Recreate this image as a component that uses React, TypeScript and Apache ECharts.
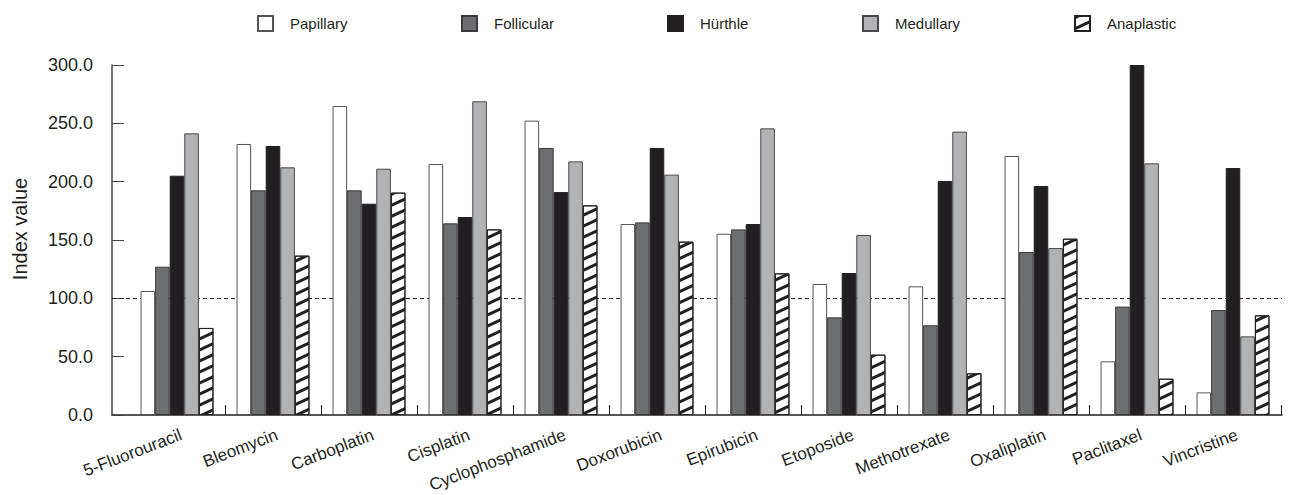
import React, { useEffect, useRef } from "react";
import * as echarts from "echarts";

const categories = [
  "5-Fluorouracil", "Bleomycin", "Carboplatin", "Cisplatin", "Cyclophosphamide", "Doxorubicin",
  "Epirubicin", "Etoposide", "Methotrexate", "Oxaliplatin", "Paclitaxel", "Vincristine",
];
const seriesNames = ["Papillary", "Follicular", "Hürthle", "Medullary", "Anaplastic"];
const papillary = [106.3, 232.3, 264.9, 215.1, 252.3, 163.7, 155.4, 112.3, 110.3, 222.0, 46.0, 19.4];
const follicular = [127.1, 192.6, 192.6, 164.3, 228.9, 165.1, 159.1, 83.7, 76.9, 139.7, 92.9, 90.0];
const hurthle = [205.1, 230.6, 181.1, 169.7, 191.1, 228.9, 163.7, 121.7, 200.6, 196.3, 300.0, 211.7];
const medullary = [241.4, 212.3, 211.1, 268.9, 217.4, 206.0, 245.7, 154.3, 242.9, 143.1, 215.7, 67.4];
const anaplastic = [74.6, 136.6, 190.6, 159.1, 179.7, 148.6, 121.4, 51.7, 35.7, 151.1, 31.1, 85.4];
const referenceValue = 100;
const yMin = 0;
const yMax = 300;
const yInterval = 50;

const FONT = "'Liberation Sans', Arial, Helvetica, sans-serif";
const INK = "#231f20";

export default function App() {
  const ref = useRef<HTMLDivElement>(null);

  useEffect(() => {
    if (!ref.current) return;
    const chart = echarts.init(ref.current, null, { renderer: "svg" });

    const values = [papillary, follicular, hurthle, medullary, anaplastic];
    const styles: any[] = [
      { color: "#ffffff", borderColor: "#555555", borderWidth: 1 },
      { color: "#6d6e72", borderColor: "#3a3a3c", borderWidth: 1 },
      { color: INK, borderColor: INK, borderWidth: 1 },
      { color: "#b2b3b6", borderColor: "#48484a", borderWidth: 1 },
      {
        color: "#ffffff",
        borderColor: INK,
        borderWidth: 1,
        decal: {
          symbol: "rect",
          symbolSize: 1,
          dashArrayX: [1, 0],
          dashArrayY: [3, 7],
          rotation: -Math.PI * 25 / 180,
          color: INK,
        },
      },
    ];
    const legendLefts = [257, 461, 667, 862, 1074];

    const barSeries = seriesNames.map((name, i) => ({
      name,
      type: "bar",
      xAxisIndex: 1,
      yAxisIndex: 1,
      data: values[i],
      barGap: "0%",
      barCategoryGap: "24%",
      z: 2,
      itemStyle: styles[i],
    }));

    const option: any = {
      animation: false,
      backgroundColor: "#ffffff",
      legend: seriesNames.map((name, i) => ({
        data: [name],
        left: legendLefts[i],
        top: 15,
        padding: 0,
        icon: "rect",
        itemWidth: 15,
        itemHeight: 15,
        selectedMode: false,
        textStyle: { fontFamily: FONT, fontSize: 15, color: INK, padding: [0, 0, 0, 12] },
      })),
      grid: [
        { left: 112, right: 7, top: 65, bottom: 80 },
        { left: 129, right: 8, top: 65, bottom: 80 },
        { left: 133, width: 1152, top: 65, bottom: 80 },
      ],
      xAxis: [
        {
          type: "value",
          gridIndex: 0,
          min: 0,
          max: 1,
          axisLine: { show: true, lineStyle: { color: INK, width: 1.5 } },
          axisTick: { show: false },
          axisLabel: { show: false },
          splitLine: { show: false },
        },
        {
          type: "category",
          gridIndex: 1,
          data: categories,
          boundaryGap: true,
          axisLine: { show: false },
          axisTick: {
            show: true,
            inside: true,
            length: 10,
            lineStyle: { color: INK, width: 1 },
            interval: (index: number) => index !== 0,
          },
          axisLabel: { show: false },
        },
        {
          type: "category",
          gridIndex: 2,
          data: categories,
          boundaryGap: true,
          axisLine: { show: false },
          axisTick: { show: false },
          axisLabel: {
            rotate: 21,
            margin: 25,
            fontFamily: FONT,
            fontSize: 17,
            color: INK,
            interval: 0,
          },
        },
      ],
      yAxis: [
        {
          type: "value",
          gridIndex: 0,
          min: yMin,
          max: yMax,
          interval: yInterval,
          name: "Index value",
          nameLocation: "middle",
          nameGap: 82,
          nameTextStyle: { fontFamily: FONT, fontSize: 20, color: INK, padding: [0, 0, 0, 22] },
          axisLine: { show: true, lineStyle: { color: "#444444", width: 1.5 } },
          axisTick: { show: true, inside: true, length: 12, lineStyle: { color: "#444444", width: 1 } },
          axisLabel: {
            margin: 19,
            fontFamily: FONT,
            fontSize: 18,
            color: INK,
            formatter: (v: number) => v.toFixed(1),
          },
          splitLine: { show: false },
        },
        {
          type: "value",
          gridIndex: 1,
          min: yMin,
          max: yMax,
          interval: yInterval,
          show: false,
          splitLine: { show: false },
        },
        {
          type: "value",
          gridIndex: 2,
          min: yMin,
          max: yMax,
          interval: yInterval,
          show: false,
          splitLine: { show: false },
        },
      ],
      series: [
        {
          name: "ref",
          type: "line",
          xAxisIndex: 0,
          yAxisIndex: 0,
          data: [],
          z: 1,
          markLine: {
            z: 1,
            silent: true,
            symbol: "none",
            label: { show: false },
            lineStyle: { type: [4, 3], color: INK, width: 1 },
            data: [{ yAxis: referenceValue }],
          },
        },
        ...barSeries,
      ],
    };

    chart.setOption(option);
    return () => chart.dispose();
  }, []);

  return (
    <div
      ref={ref}
      style={{ position: "absolute", left: 0, top: 0, width: 1289, height: 495 }}
    />
  );
}
